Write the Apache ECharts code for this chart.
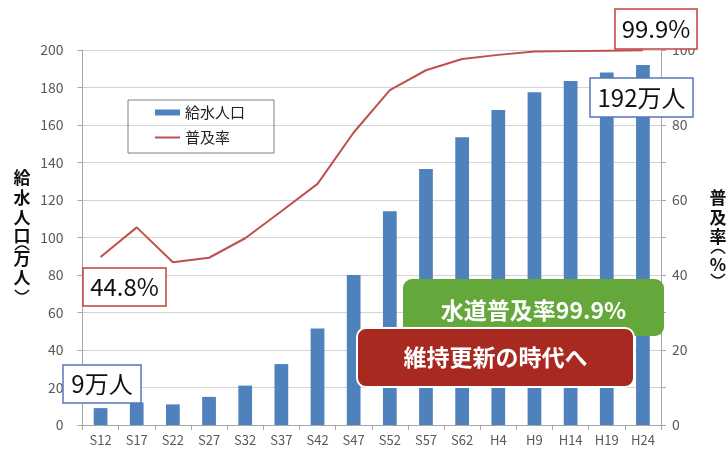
<!DOCTYPE html>
<html>
<head>
<meta charset="utf-8">
<script src="https://cdn.jsdelivr.net/npm/echarts@6/dist/echarts.min.js"></script>
<style>
  html, body { margin: 0; padding: 0; background: #fff; }
  #chart { width: 728px; height: 455px; }
</style>
</head>
<body>
<div id="chart"></div>
<script>
// 年度（昭和・平成）
const years = ['S12', 'S17', 'S22', 'S27', 'S32', 'S37', 'S42', 'S47',
               'S52', 'S57', 'S62', 'H4', 'H9', 'H14', 'H19', 'H24'];
// 給水人口（万人）
const population = [9, 12, 11, 15, 21, 32.5, 51.5, 80, 114, 136.5, 153.5, 168, 177.5, 183.5, 188, 192];
// 普及率（%）
const coverage = [44.8, 52.7, 43.4, 44.6, 49.8, 57, 64.3, 78, 89.3, 94.6, 97.6, 98.7, 99.6, 99.7, 99.8, 99.9];

// 軸の範囲
const popAxis = { min: 0, max: 200, step: 20 };
const rateAxis = { min: 0, max: 100, step: 10, labelStep: 20 };

const FONT = '"Noto Sans CJK JP", "Noto Sans", sans-serif';
const last = years.length - 1;

// 枠付き注記
function tag(x, y, w, h, text, o) {
  return {
    type: 'group', x: x, y: y, z: 100,
    children: [
      { type: 'rect', z: 100, shape: { x: 0, y: 0, width: w, height: h, r: o.r || 0 },
        style: { fill: o.fill || '#fff', stroke: o.stroke || null, lineWidth: o.lw || 1.5 } },
      { type: 'text', z: 101, x: w / 2 + (o.dx || 0), y: h / 2 + (o.dy || 0),
        style: { text: text, fill: o.color || '#111', align: 'center', verticalAlign: 'middle',
                 textAlign: 'center', textVerticalAlign: 'middle',
                 fontSize: o.size || 24, fontWeight: o.weight || 'normal', fontFamily: FONT } }
    ]
  };
}

// 縦書きの軸タイトル（1文字ずつ積む。括弧は縦書き用の弧で描く）
function verticalTitle(x, y, chars) {
  let cy = y;
  return chars.map(([ch, step]) => {
    let el;
    if (ch === '(' || ch === ')') {
      const s = ch === '(' ? 1 : -1;
      el = {
        type: 'bezierCurve', z: 50,
        shape: { x1: x - 7, y1: cy + 3 * s, cpx1: x, cpy1: cy - 5 * s, x2: x + 7, y2: cy + 3 * s },
        style: { stroke: '#111', lineWidth: 1.6, fill: null }
      };
    } else {
      el = {
        type: 'text', x: x, y: cy, z: 50,
        style: { text: ch, fill: '#111', align: 'center', verticalAlign: 'middle',
                 textAlign: 'center', textVerticalAlign: 'middle',
                 fontSize: 17, fontWeight: 'bold', fontFamily: FONT }
      };
    }
    cy += step;
    return el;
  });
}

const RED_BORDER = '#c0443c';
const BLUE_BORDER = '#5577b8';

const chart = echarts.init(document.getElementById('chart'));
chart.setOption({
  animation: false,
  backgroundColor: '#fff',
  textStyle: { fontFamily: FONT },
  grid: { left: 82.5, right: 67, top: 50, bottom: 30 },
  legend: {
    orient: 'vertical', left: 128, top: 100,
    padding: [5, 29, 8, 26], itemGap: 10,
    itemWidth: 25, itemHeight: 6,
    borderColor: '#808080', borderWidth: 1,
    textStyle: { fontSize: 15, color: '#222', fontFamily: FONT },
    data: [
      { name: '給水人口', icon: 'rect' },
      { name: '普及率', itemStyle: { opacity: 0 } }
    ]
  },
  xAxis: {
    type: 'category', data: years, boundaryGap: true,
    axisLine: { lineStyle: { color: '#a6a6a6', width: 1 } },
    axisTick: { show: true, length: 5, lineStyle: { color: '#a6a6a6' } },
    axisLabel: { color: '#595959', fontSize: 13, margin: 9, interval: 0, fontFamily: FONT },
    splitLine: { show: false }
  },
  yAxis: [
    {
      type: 'value', min: popAxis.min, max: popAxis.max, interval: popAxis.step,
      axisLine: { show: true, lineStyle: { color: '#a6a6a6' } },
      axisTick: { show: true, length: 5, lineStyle: { color: '#a6a6a6' } },
      axisLabel: { color: '#595959', fontSize: 14, margin: 19, fontFamily: FONT },
      splitLine: { show: true, lineStyle: { color: '#d4d4d4', width: 1 } }
    },
    {
      type: 'value', min: rateAxis.min, max: rateAxis.max, interval: rateAxis.step,
      position: 'right',
      axisLine: { show: true, lineStyle: { color: '#a6a6a6' } },
      axisTick: { show: true, length: 5, lineStyle: { color: '#a6a6a6' } },
      axisLabel: {
        color: '#595959', fontSize: 14, margin: 11, fontFamily: FONT,
        formatter: v => (v % rateAxis.labelStep === 0 ? String(v) : '')
      },
      splitLine: { show: false }
    }
  ],
  series: [
    {
      name: '給水人口', type: 'bar', yAxisIndex: 0, data: population,
      barWidth: '38%', itemStyle: { color: '#4f81bd' }, z: 2
    },
    {
      name: '普及率', type: 'line', yAxisIndex: 1, data: coverage,
      symbol: 'none', lineStyle: { color: '#c0504d', width: 2 },
      itemStyle: { color: '#c0504d' }, z: 3
    }
  ],
  graphic: [
    ...verticalTitle(22, 177.5, [['給', 20.5], ['水', 19.5], ['人', 18], ['口', 11.5], ['(', 12], ['万', 19], ['人', 15], [')', 0]]),
    ...verticalTitle(718, 197.5, [['普', 20], ['及', 19.5], ['率', 13.5], ['(', 14], ['%', 12.5], [')', 0]]),
    tag(615, 9, 82, 40, coverage[last] + '%', { stroke: RED_BORDER }),
    tag(590, 78, 103, 39, population[last] + '万人', { stroke: BLUE_BORDER }),
    tag(83, 268, 83, 38, coverage[0] + '%', { stroke: RED_BORDER }),
    tag(63, 365, 78, 38, population[0] + '万人', { stroke: BLUE_BORDER }),
    tag(403, 279, 261, 57, '水道普及率' + coverage[last] + '%',
        { fill: '#64a83c', r: 9, color: '#fff', weight: 'bold', dy: 2.5, size: 23 }),
    tag(357, 328, 277, 59, '維持更新の時代へ',
        { fill: '#a8291f', stroke: '#fff', lw: 2, r: 9, color: '#fff', weight: 'bold', size: 23 })
  ]
});
</script>
</body>
</html>
